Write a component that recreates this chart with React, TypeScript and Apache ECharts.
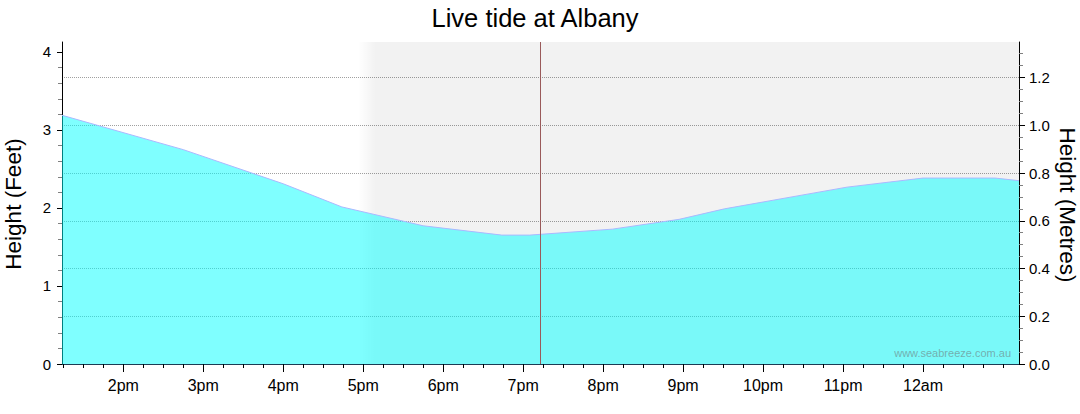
import React, { useEffect, useRef } from "react";
import * as echarts from "echarts";

// Tide curve (time of day, height in metres)
const times = ["13:14", "14:45", "16:00", "16:44", "17:45", "18:44", "19:05", "20:07", "20:57", "21:31", "23:03", "00:00", "00:54", "01:12"];
const heightsM = [1.042, 0.898, 0.755, 0.658, 0.579, 0.54, 0.54, 0.565, 0.606, 0.65, 0.741, 0.779, 0.779, 0.768];

// Axis ticks / labels
const hourTicks = ["14:00", "15:00", "16:00", "17:00", "18:00", "19:00", "20:00", "21:00", "22:00", "23:00", "00:00"];
const feetTicks = [0, 1, 2, 3, 4];
const metreTicks = [0, 0.2, 0.4, 0.6, 0.8, 1.0, 1.2];

// Window and events
const windowStart = "13:14";
const windowEnd = "01:12";
const feetMax = 4.128;
const metreMax = 1.349;
const nightFadeStart = "16:56";
const nightStart = "17:09";
const nowTime = "19:13";

const FONT = "'Liberation Sans', Arial, sans-serif";

function toMin(s: string): number {
  const [h, m] = s.split(":").map(Number);
  let v = h * 60 + m;
  if (h < 12) v += 1440;
  return v;
}

function fmtHour(v: number): string {
  const h = Math.round(v / 60) % 24;
  if (h === 0) return "12am";
  if (h === 12) return "12pm";
  return h > 12 ? `${h - 12}pm` : `${h}am`;
}

export default function App() {
  const ref = useRef<HTMLDivElement>(null);

  useEffect(() => {
    if (!ref.current) return;
    const chart = echarts.init(ref.current, undefined, { renderer: "svg" });
    const xMin = toMin(windowStart);
    const xMax = toMin(windowEnd);
    const hourVals = hourTicks.map(toMin);
    const quarterVals: number[] = [];
    for (let v = Math.ceil(xMin / 15) * 15; v <= xMax; v += 15) quarterVals.push(v);
    const data = times.map((t, i) => [toMin(t), heightsM[i]]);

    const grid = { left: 62, right: 61, top: 42, bottom: 50 };

    chart.setOption({
      animation: false,
      grid,
      graphic: [
        {
          type: "text",
          x: 535,
          y: 18,
          style: {
            text: "Live tide at Albany",
            font: `25.5px ${FONT}`,
            fill: "#000",
            textAlign: "center",
            textVerticalAlign: "middle",
          },
        },
        {
          type: "text",
          x: 13,
          y: 204,
          rotation: Math.PI / 2,
          style: {
            text: "Height (Feet)",
            font: `22.5px ${FONT}`,
            fill: "#000",
            textAlign: "center",
            textVerticalAlign: "middle",
          },
        },
        {
          type: "text",
          x: 1067,
          y: 205,
          rotation: -Math.PI / 2,
          style: {
            text: "Height (Metres)",
            font: `22.5px ${FONT}`,
            fill: "#000",
            textAlign: "center",
            textVerticalAlign: "middle",
          },
        },
        {
          type: "text",
          x: 1011,
          y: 353,
          z: 100,
          style: {
            text: "www.seabreeze.com.au",
            font: `11px ${FONT}`,
            fill: "rgba(110,110,110,0.55)",
            textAlign: "right",
            textVerticalAlign: "middle",
          },
        },
      ],
      xAxis: [
        {
          type: "value",
          min: xMin,
          max: xMax,
          position: "bottom",
          axisLine: { show: true, lineStyle: { color: "#1c3c54", width: 1 } },
          axisTick: { show: true, customValues: hourVals, length: 8, lineStyle: { color: "#000" } },
          axisLabel: {
            show: true,
            customValues: hourVals,
            formatter: (v: number) => fmtHour(v),
            fontSize: 16,
            fontFamily: FONT,
            color: "#000",
            margin: 13,
          },
          splitLine: { show: false },
        },
        {
          type: "value",
          min: xMin,
          max: xMax,
          position: "bottom",
          axisLine: { show: false },
          axisTick: { show: true, customValues: quarterVals, length: 4, lineStyle: { color: "#000" } },
          axisLabel: { show: false },
          splitLine: { show: false },
        },
      ],
      yAxis: [
        {
          type: "value",
          min: 0,
          max: feetMax,
          interval: 1,
          position: "left",
          axisLine: { show: true, lineStyle: { color: "#000" } },
          axisTick: { show: true, customValues: feetTicks, length: 5, lineStyle: { color: "#000" } },
          minorTick: { show: true, splitNumber: 5, length: 4, lineStyle: { color: "#808080" } },
          axisLabel: {
            customValues: feetTicks,
            fontSize: 15,
            fontFamily: FONT,
            color: "#000",
            margin: 11,
          },
          splitLine: { show: false },
        },
        {
          type: "value",
          min: 0,
          max: metreMax,
          interval: 0.2,
          position: "right",
          axisLine: { show: true, lineStyle: { color: "#000" } },
          axisTick: { show: true, customValues: metreTicks, length: 6, lineStyle: { color: "#000" } },
          minorTick: { show: true, splitNumber: 4, length: 4, lineStyle: { color: "#808080" } },
          axisLabel: {
            customValues: metreTicks,
            formatter: (v: number) => v.toFixed(1),
            fontSize: 15,
            fontFamily: FONT,
            color: "#000",
            margin: 10,
          },
          splitLine: {
            show: true,
            showMinLine: false,
            showMaxLine: true,
            lineStyle: { color: "#a0a0a0", type: [1, 1], width: 1 },
          },
        },
      ],
      series: [
        {
          type: "line",
          xAxisIndex: 0,
          yAxisIndex: 1,
          z: 1,
          data: [],
          silent: true,
          markArea: {
            silent: true,
            label: { show: false },
            data: [
              [
                {
                  xAxis: toMin(nightFadeStart),
                  itemStyle: {
                    color: new echarts.graphic.LinearGradient(0, 0, 1, 0, [
                      { offset: 0, color: "rgba(0,0,0,0)" },
                      { offset: 1, color: "rgba(0,0,0,0.051)" },
                    ]),
                  },
                },
                { xAxis: toMin(nightStart) },
              ],
              [
                { xAxis: toMin(nightStart), itemStyle: { color: "rgba(0,0,0,0.051)" } },
                { xAxis: xMax },
              ],
            ],
          },
        },
        {
          type: "line",
          xAxisIndex: 0,
          yAxisIndex: 1,
          z: 2,
          data,
          symbol: "none",
          smooth: false,
          lineStyle: { color: "#aab8ff", width: 1 },
          areaStyle: { color: "rgba(0,255,255,0.5)", opacity: 1 },
          markLine: {
            silent: true,
            symbol: ["none", "none"],
            label: { show: false },
            lineStyle: { color: "#9a5a5a", type: "solid", width: 1 },
            data: [{ xAxis: toMin(nowTime) }],
          },
        },
      ],
    });
    return () => chart.dispose();
  }, []);

  return (
    <div
      ref={ref}
      style={{ position: "fixed", left: 0, top: 0, width: 1080, height: 414, background: "#fff" }}
    />
  );
}
